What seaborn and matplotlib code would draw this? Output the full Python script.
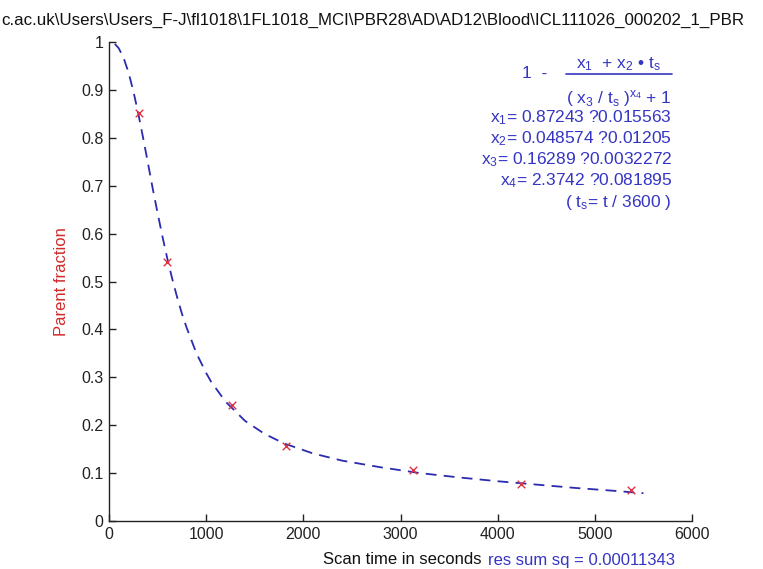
import matplotlib
matplotlib.use("Agg")
import matplotlib.pyplot as plt
import seaborn as sns
import pandas as pd
from matplotlib.lines import Line2D

# ---- data ----
sample_time = [305, 600, 1270, 1825, 3130, 4240, 5370]
parent_fraction = [0.852, 0.541, 0.242, 0.157, 0.106, 0.077, 0.065]

fit_time = [60, 100, 150, 200, 250, 300, 350, 400, 450, 500, 550, 600, 650, 700,
            750, 800, 900, 1000, 1050, 1200, 1400, 1600, 1800, 2100, 2400, 2800,
            3200, 3600, 4000, 4400, 4800, 5200, 5500]
fit_value = [0.996, 0.987, 0.967, 0.937, 0.898, 0.852, 0.801, 0.748, 0.694, 0.643,
             0.594, 0.548, 0.506, 0.468, 0.433, 0.403, 0.350, 0.309, 0.291, 0.249,
             0.209, 0.182, 0.162, 0.141, 0.126, 0.112, 0.100, 0.091, 0.083, 0.076,
             0.069, 0.063, 0.058]

x_ticks = [0, 1000, 2000, 3000, 4000, 5000, 6000]
y_ticks = [0, 0.1, 0.2, 0.3, 0.4, 0.5, 0.6, 0.7, 0.8, 0.9, 1]
y_tick_labels = ["0", "0.1", "0.2", "0.3", "0.4", "0.5", "0.6", "0.7", "0.8", "0.9", "1"]

title_text = r"c.ac.uk\Users\Users_F-J\fl1018\1FL1018_MCI\PBR28\AD\AD12\Blood\ICL111026_000202_1_PBR"
param_lines = [r"$x_1$= 0.87243 ?0.015563",
               r"$x_2$= 0.048574 ?0.01205",
               r"$x_3$= 0.16289 ?0.0032272",
               r"$x_4$= 2.3742 ?0.081895",
               r"( $t_s$= t / 3600 )"]
res_text = "res sum sq = 0.00011343"

# ---- style ----
sns.set_theme(style="ticks")
plt.rcParams["font.family"] = ["Liberation Sans Narrow", "Liberation Sans", "DejaVu Sans"]
plt.rcParams["mathtext.fontset"] = "custom"
plt.rcParams["mathtext.rm"] = "Liberation Sans"
plt.rcParams["mathtext.it"] = "Liberation Sans"
plt.rcParams["mathtext.default"] = "regular"

blue_txt = "#3535c4"
line_blue = "#2b2bb0"
red = "#dd3344"

fig = plt.figure(figsize=(7.63, 5.69), dpi=100)
fig.patch.set_facecolor("white")
ax = fig.add_axes([109 / 763, 1 - 521 / 569, 583 / 763, 479 / 569])
ax.set_facecolor("white")

fit_df = pd.DataFrame({"t": fit_time, "f": fit_value})
pts_df = pd.DataFrame({"t": sample_time, "f": parent_fraction})

sns.lineplot(data=fit_df, x="t", y="f", ax=ax, color=line_blue, lw=1.3, sort=False)
ax.lines[-1].set_dashes([6, 4])
sns.scatterplot(data=pts_df, x="t", y="f", ax=ax, marker="x", color=red, s=30,
                linewidth=1.0, zorder=3)

ax.set_xlim(0, 6000)
ax.set_ylim(0, 1)
ax.set_xticks(x_ticks)
ax.set_xticklabels([str(v) for v in x_ticks])
ax.set_yticks(y_ticks)
ax.set_yticklabels(y_tick_labels)
ax.tick_params(direction="in", length=5, width=1, labelsize=11.5, colors="#222222",
               pad=4)
for side in ("top", "right"):
    ax.spines[side].set_visible(False)
for side in ("left", "bottom"):
    ax.spines[side].set_color("#222222")
    ax.spines[side].set_linewidth(1.0)

ax.set_xlabel("")
ax.set_ylabel("Parent fraction", color="#d02a2a", fontsize=12, labelpad=9)

# title
fig.text(0.002, 1 - 20 / 569, title_text, ha="left", va="center", fontsize=12.2,
         color="#111111")

# x label and residual text
fig.text(482 / 763, 1 - 560 / 569, "Scan time in seconds", ha="right", va="center",
         fontsize=12, color="#111111")
fig.text(488 / 763, 1 - 560 / 569, res_text, ha="left", va="center",
         fontsize=12, color=blue_txt)

# formula box (upper right)
rx = 672 / 763
fig.text(535 / 763, 1 - 73 / 569, "1  -", ha="center", va="center", fontsize=12.5,
         color=blue_txt)
fig.text(619 / 763, 1 - 64 / 569, r"$x_1$  + $x_2$ • $t_s$", ha="center", va="center",
         fontsize=12.5, color=blue_txt)
fig.add_artist(Line2D([566 / 763, 672 / 763], [1 - 74 / 569, 1 - 74 / 569],
                      color=blue_txt, lw=1.2, transform=fig.transFigure))
fig.text(619 / 763, 1 - 98 / 569, r"( $x_3$ / $t_s$ )$^{x_4}$ + 1", ha="center",
         va="center", fontsize=12.5, color=blue_txt)
ys = [118, 139, 160, 181, 203]
for yy, s in zip(ys, param_lines):
    fig.text(rx, 1 - yy / 569, s, ha="right", va="center", fontsize=12.5, color=blue_txt)

fig.savefig("out.png", dpi=100, facecolor="white")
